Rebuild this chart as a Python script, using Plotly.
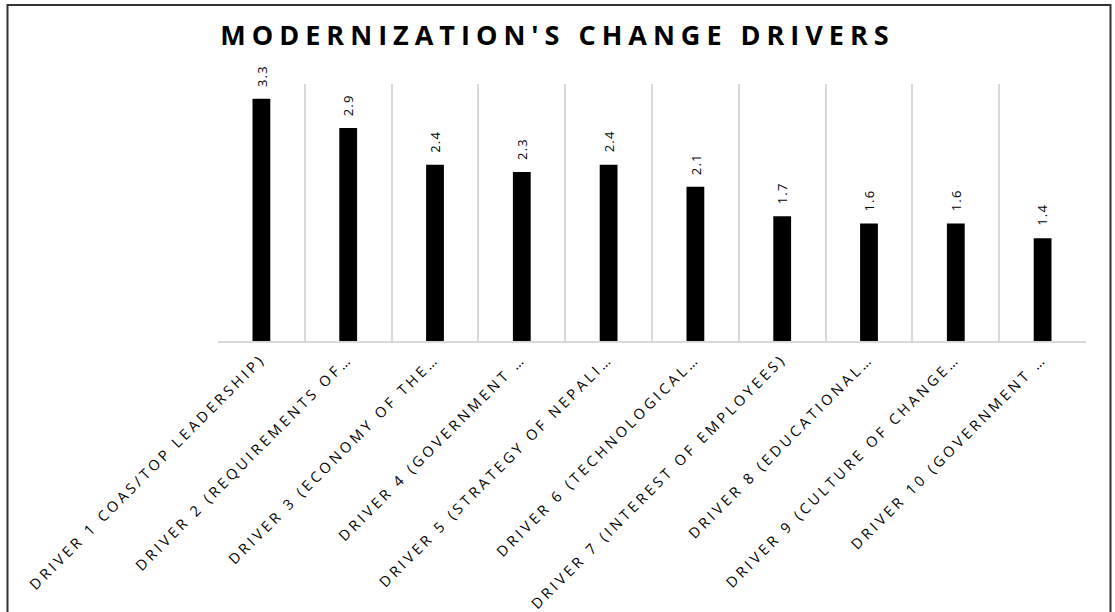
import plotly.graph_objects as go

categories = [
    "DRIVER 1 COAS/TOP LEADERSHIP)",
    "DRIVER 2 (REQUIREMENTS OF…",
    "DRIVER 3 (ECONOMY OF THE…",
    "DRIVER 4 (GOVERNMENT …",
    "DRIVER 5 (STRATEGY OF NEPALI…",
    "DRIVER 6 (TECHNOLOGICAL…",
    "DRIVER 7 (INTEREST OF EMPLOYEES)",
    "DRIVER 8 (EDUCATIONAL…",
    "DRIVER 9 (CULTURE OF CHANGE…",
    "DRIVER 10 (GOVERNMENT …",
]
values = [3.3, 2.9, 2.4, 2.3, 2.4, 2.1, 1.7, 1.6, 1.6, 1.4]
title_text = "MODERNIZATION'S CHANGE DRIVERS"

W, H = 1115, 612
L, R, T, B = 218, 29, 84, 271
pw, ph = W - L - R, H - T - B

def px_x(x):
    return (x - L) / pw

def px_y(y):
    return (H - B - y) / ph

def spaced(s, ls):
    return '<span style="letter-spacing:%.1fpx">%s</span>' % (ls, s)

ticktext = [spaced(c, 3.4) for c in categories]

fig = go.Figure(
    go.Bar(
        x=categories,
        y=values,
        marker=dict(color="black", line=dict(width=0)),
        width=0.205,
        hoverinfo="x+y",
        cliponaxis=False,
    )
)

for c, v in zip(categories, values):
    fig.add_annotation(
        x=c,
        y=v,
        xref="x",
        yref="y",
        text=spaced(f"{v:.1f}", 1.2),
        textangle=-90,
        showarrow=False,
        xanchor="center",
        yanchor="bottom",
        yshift=10,
        font=dict(family="Open Sans", size=13, color="black"),
    )

fig.update_layout(
    width=W,
    height=H,
    margin=dict(l=L, r=R, t=T, b=B),
    paper_bgcolor="white",
    plot_bgcolor="white",
    showlegend=False,
    title=dict(
        text="<b>%s</b>" % spaced(title_text, 6.0),
        x=0.5,
        xanchor="center",
        y=1 - 36 / H,
        yanchor="middle",
        font=dict(family="Open Sans", size=27, color="black"),
    ),
    xaxis=dict(
        type="category",
        tickmode="array",
        tickvals=categories,
        ticktext=ticktext,
        tickangle=-45,
        tickson="boundaries",
        ticks="",
        ticklabelstandoff=2,
        showgrid=True,
        gridcolor="#d9d9d9",
        gridwidth=1.5,
        showline=True,
        linecolor="#d9d9d9",
        linewidth=1.5,
        tickfont=dict(family="Open Sans", size=14.5, color="black"),
        automargin=False,
    ),
    yaxis=dict(
        range=[0, 3.5],
        visible=False,
        showgrid=False,
        zeroline=False,
    ),
)

fig.add_shape(
    type="rect",
    xref="paper",
    yref="paper",
    x0=px_x(7.5),
    x1=px_x(1110.5),
    y0=px_y(620),
    y1=px_y(5),
    line=dict(color="#333333", width=2),
    fillcolor="rgba(0,0,0,0)",
    layer="above",
)

fig.write_html(
    "out.html",
    config={"displayModeBar": False},
    post_script="document.body.style.margin='0';",
)
